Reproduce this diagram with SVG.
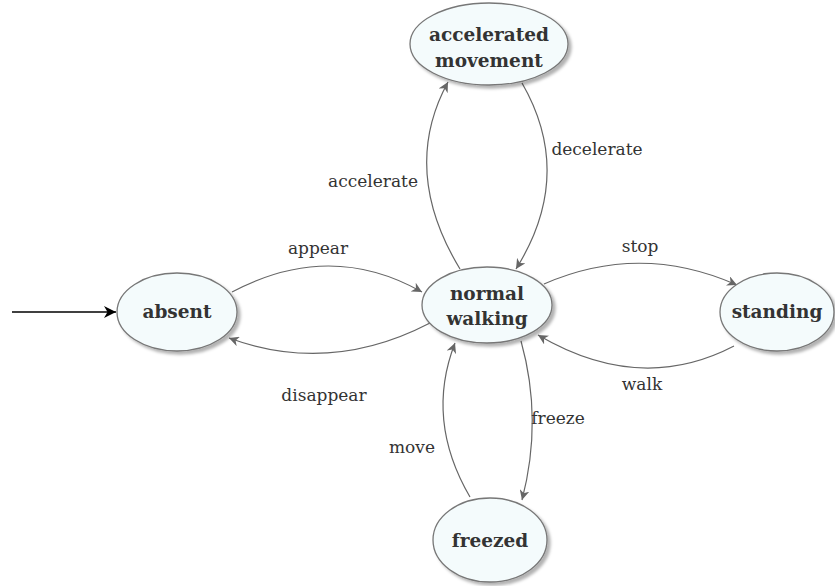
<svg xmlns="http://www.w3.org/2000/svg" width="835" height="586" viewBox="0 0 835 586">
<defs>
<filter id="sh" x="-20%" y="-20%" width="150%" height="150%">
<feDropShadow dx="3" dy="3" stdDeviation="1.5" flood-color="#000" flood-opacity="0.3"/>
</filter>
<marker id="ah" markerWidth="12" markerHeight="10" refX="10" refY="5" orient="auto" markerUnits="userSpaceOnUse">
<path d="M0,0 L10,5 L0,10 L3,5 Z" fill="#666"/>
</marker>
<marker id="ahb" markerWidth="14" markerHeight="12" refX="12" refY="6" orient="auto" markerUnits="userSpaceOnUse">
<path d="M0,0 L12,6 L0,12 L3.5,6 Z" fill="#000"/>
</marker>
</defs>
<style>
.node ellipse{fill:#f4fbfc;stroke:#777;stroke-width:1.3;filter:url(#sh)}
.node text{font-family:"DejaVu Serif",serif;font-weight:bold;font-size:18.5px;fill:#333;text-anchor:middle}
.edge{fill:none;stroke:#666;stroke-width:1.2;marker-end:url(#ah)}
.lbl{font-family:"DejaVu Serif",serif;font-size:17px;fill:#333;text-anchor:middle}
</style>
<g id="connectors">
<line x1="12" y1="312" x2="116" y2="312" stroke="#000" stroke-width="1.5" marker-end="url(#ahb)"/>
<path class="edge" d="M232,292 Q330,240 422,292"/>
<path class="edge" d="M430,323 Q330,375 229,338"/>
<path class="edge" d="M460,269 Q400,170 448,82"/>
<path class="edge" d="M522,83 Q575,175 516,269"/>
<path class="edge" d="M544,284 Q640,242 737,285"/>
<path class="edge" d="M734,346 Q640,395 538,335"/>
<path class="edge" d="M521,341 Q543,420 522,500"/>
<path class="edge" d="M470,497 Q425,420 455,343"/>
<text class="lbl" x="373" y="187">accelerate</text>
<text class="lbl" x="597" y="155">decelerate</text>
<text class="lbl" x="318" y="254">appear</text>
<text class="lbl" x="640" y="252">stop</text>
<text class="lbl" x="324" y="401">disappear</text>
<text class="lbl" x="642" y="390">walk</text>
<text class="lbl" x="412" y="453">move</text>
<text class="lbl" x="558" y="424">freeze</text>
</g>
<g id="accelerated" class="node">
<ellipse cx="489" cy="44" rx="79" ry="41"/>
<text x="489" y="41">accelerated</text>
<text x="489" y="67">movement</text>
</g>
<g id="normal" class="node">
<ellipse cx="487" cy="305" rx="65" ry="38"/>
<text x="487" y="300">normal</text>
<text x="487" y="325">walking</text>
</g>
<g id="absent" class="node">
<ellipse cx="177" cy="312" rx="60" ry="39"/>
<text x="177" y="318">absent</text>
</g>
<g id="standing" class="node">
<ellipse cx="777" cy="312" rx="57" ry="39"/>
<text x="777" y="318">standing</text>
</g>
<g id="freezed" class="node">
<ellipse cx="490" cy="540" rx="57" ry="42"/>
<text x="490" y="547">freezed</text>
</g>
</svg>
